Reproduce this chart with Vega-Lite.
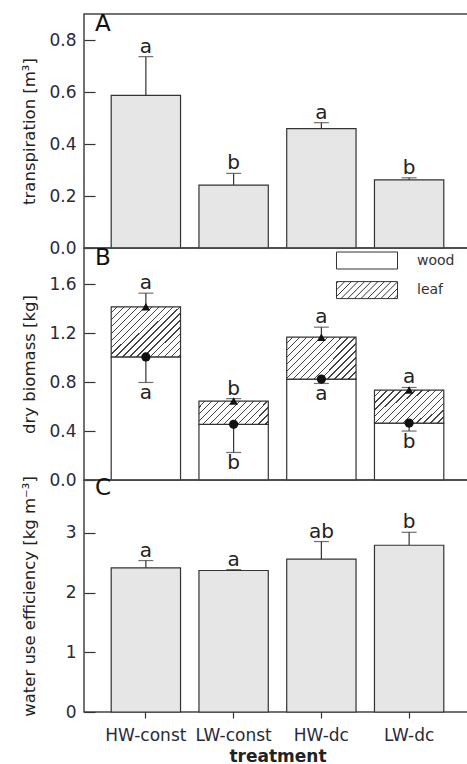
{
  "$schema": "https://vega.github.io/schema/vega-lite/v6.json",
  "padding": {"left": 20, "top": 12, "right": 0, "bottom": 0},
  "spacing": 0,
  "bounds": "flush",
  "config": {
    "font": "DejaVu Sans",
    "view": {"stroke": "#444", "strokeWidth": 1.5},
    "axis": {"grid": false, "domain": false, "labelFont": "DejaVu Sans", "labelFontSize": 17, "labelColor": "#2a2a3a", "tickColor": "#333", "tickWidth": 1.2, "titleFont": "DejaVu Sans", "titleFontSize": 16.5, "titleFontWeight": "normal", "titleColor": "#222"},
    "legend": {"padding": 0}
  },
  "vconcat": [
    {
      "width": 387,
      "height": 234,
      "title": {"text": "A", "anchor": "start", "frame": "group", "offset": -22, "dx": 11, "fontSize": 23, "fontWeight": "normal", "font": "DejaVu Sans", "color": "#111"},
      "data": {"values": [
        {"treatment": "HW-const", "value": 0.587, "err": 0.736, "lab": "a"},
        {"treatment": "LW-const", "value": 0.242, "err": 0.287, "lab": "b"},
        {"treatment": "HW-dc", "value": 0.459, "err": 0.482, "lab": "a"},
        {"treatment": "LW-dc", "value": 0.262, "err": 0.270, "lab": "b"}
      ]},
      "encoding": {"x": {"field": "treatment", "type": "nominal", "sort": ["HW-const", "LW-const", "HW-dc", "LW-dc"], "scale": {"paddingInner": 0.21, "paddingOuter": 0.31}, "axis": null}},
      "layer": [
        {"mark": {"type": "bar", "fill": "#e6e6e6", "stroke": "#333", "strokeWidth": 1.2},
         "encoding": {"y": {"field": "value", "type": "quantitative", "scale": {"domain": [0, 0.9], "nice": false},
           "axis": {"title": "transpiration [m³]", "values": [0, 0.1, 0.2, 0.3, 0.4, 0.5, 0.6, 0.7, 0.8],
             "labelExpr": "abs(datum.value*5-round(datum.value*5))<0.001 ? format(datum.value,'.1f') : ''",
             "tickSize": {"condition": {"test": "abs(datum.value*5-round(datum.value*5))<0.001", "value": -11}, "value": -8},
             "labelPadding": 19, "titleX": -50, "titleBaseline": "alphabetic"}}}},
        {"mark": {"type": "rule", "stroke": "#333", "strokeWidth": 1.2},
         "encoding": {"y": {"field": "value", "type": "quantitative"}, "y2": {"field": "err"}}},
        {"mark": {"type": "tick", "color": "#333", "thickness": 1.2, "size": 15},
         "encoding": {"y": {"field": "err", "type": "quantitative"}}},
        {"mark": {"type": "text", "baseline": "alphabetic", "dy": -4, "fontSize": 20, "color": "#222"},
         "encoding": {"y": {"field": "err", "type": "quantitative"}, "text": {"field": "lab"}}}
      ]
    },
    {
      "width": 387,
      "height": 232,
      "title": {"text": "B", "anchor": "start", "frame": "group", "offset": -22, "dx": 11, "fontSize": 23, "fontWeight": "normal", "font": "DejaVu Sans", "color": "#111"},
      "data": {"values": [
        {"treatment": "HW-const", "wood": 1.006, "total": 1.415, "leafErr": 1.527, "woodErr": 0.797, "leafLab": "a", "woodLab": "a"},
        {"treatment": "LW-const", "wood": 0.455, "total": 0.645, "leafErr": 0.665, "woodErr": 0.225, "leafLab": "b", "woodLab": "b"},
        {"treatment": "HW-dc", "wood": 0.825, "total": 1.167, "leafErr": 1.249, "woodErr": 0.789, "leafLab": "a", "woodLab": "a"},
        {"treatment": "LW-dc", "wood": 0.465, "total": 0.735, "leafErr": 0.756, "woodErr": 0.40, "leafLab": "a", "woodLab": "b"}
      ]},
      "encoding": {"x": {"field": "treatment", "type": "nominal", "sort": ["HW-const", "LW-const", "HW-dc", "LW-dc"], "scale": {"paddingInner": 0.21, "paddingOuter": 0.31}, "axis": null}},
      "layer": [
        {"mark": {"type": "bar", "fill": "white", "stroke": "#333", "strokeWidth": 1.2},
         "encoding": {"y": {"field": "wood", "type": "quantitative", "scale": {"domain": [0, 1.896], "nice": false},
           "axis": {"title": "dry biomass [kg]", "values": [0, 0.2, 0.4, 0.6, 0.8, 1.0, 1.2, 1.4, 1.6],
             "labelExpr": "abs(datum.value*2.5-round(datum.value*2.5))<0.001 ? format(datum.value,'.1f') : ''",
             "tickSize": {"condition": {"test": "abs(datum.value*2.5-round(datum.value*2.5))<0.001", "value": -11}, "value": -8},
             "labelPadding": 19, "titleX": -50, "titleBaseline": "alphabetic"}}}},
        {"mark": {"type": "bar", "stroke": "#333", "strokeWidth": 1.2},
         "encoding": {"y": {"field": "total", "type": "quantitative"}, "y2": {"field": "wood"},
           "fill": {"condition": [
             {"test": "datum.treatment === 'HW-const'", "value": {"gradient": "linear", "x1": 0, "y1": 0, "x2": 1.31, "y2": 0.951, "stops": [{"offset":0,"color":"#fff"},{"offset":0.04,"color":"#fff"},{"offset":0.04,"color":"#444"},{"offset":0.05,"color":"#444"},{"offset":0.05,"color":"#fff"},{"offset":0.09,"color":"#fff"},{"offset":0.09,"color":"#444"},{"offset":0.1,"color":"#444"},{"offset":0.1,"color":"#fff"},{"offset":0.14,"color":"#fff"},{"offset":0.14,"color":"#444"},{"offset":0.15,"color":"#444"},{"offset":0.15,"color":"#fff"},{"offset":0.19,"color":"#fff"},{"offset":0.19,"color":"#444"},{"offset":0.2,"color":"#444"},{"offset":0.2,"color":"#fff"},{"offset":0.24,"color":"#fff"},{"offset":0.24,"color":"#444"},{"offset":0.25,"color":"#444"},{"offset":0.25,"color":"#fff"},{"offset":0.29,"color":"#fff"},{"offset":0.29,"color":"#444"},{"offset":0.3,"color":"#444"},{"offset":0.3,"color":"#fff"},{"offset":0.34,"color":"#fff"},{"offset":0.34,"color":"#444"},{"offset":0.35,"color":"#444"},{"offset":0.35,"color":"#fff"},{"offset":0.39,"color":"#fff"},{"offset":0.39,"color":"#444"},{"offset":0.4,"color":"#444"},{"offset":0.4,"color":"#fff"},{"offset":0.44,"color":"#fff"},{"offset":0.44,"color":"#444"},{"offset":0.45,"color":"#444"},{"offset":0.45,"color":"#fff"},{"offset":0.49,"color":"#fff"},{"offset":0.49,"color":"#444"},{"offset":0.5,"color":"#444"},{"offset":0.5,"color":"#fff"},{"offset":0.54,"color":"#fff"},{"offset":0.54,"color":"#444"},{"offset":0.55,"color":"#444"},{"offset":0.55,"color":"#fff"},{"offset":0.59,"color":"#fff"},{"offset":0.59,"color":"#444"},{"offset":0.6,"color":"#444"},{"offset":0.6,"color":"#fff"},{"offset":0.64,"color":"#fff"},{"offset":0.64,"color":"#444"},{"offset":0.65,"color":"#444"},{"offset":0.65,"color":"#fff"},{"offset":0.69,"color":"#fff"},{"offset":0.69,"color":"#444"},{"offset":0.7,"color":"#444"},{"offset":0.7,"color":"#fff"},{"offset":0.74,"color":"#fff"},{"offset":0.74,"color":"#444"},{"offset":0.75,"color":"#444"},{"offset":0.75,"color":"#fff"},{"offset":0.79,"color":"#fff"},{"offset":0.79,"color":"#444"},{"offset":0.8,"color":"#444"},{"offset":0.8,"color":"#fff"},{"offset":0.84,"color":"#fff"},{"offset":0.84,"color":"#444"},{"offset":0.85,"color":"#444"},{"offset":0.85,"color":"#fff"},{"offset":0.89,"color":"#fff"},{"offset":0.89,"color":"#444"},{"offset":0.9,"color":"#444"},{"offset":0.9,"color":"#fff"},{"offset":0.94,"color":"#fff"},{"offset":0.94,"color":"#444"},{"offset":0.95,"color":"#444"},{"offset":0.95,"color":"#fff"},{"offset":0.99,"color":"#fff"},{"offset":0.99,"color":"#444"},{"offset":1,"color":"#444"}]}},
             {"test": "datum.treatment === 'LW-const'", "value": {"gradient": "linear", "x1": 0, "y1": 0, "x2": 1.8, "y2": 0.6, "stops": [{"offset":0,"color":"#fff"},{"offset":0.04,"color":"#fff"},{"offset":0.04,"color":"#444"},{"offset":0.05,"color":"#444"},{"offset":0.05,"color":"#fff"},{"offset":0.09,"color":"#fff"},{"offset":0.09,"color":"#444"},{"offset":0.1,"color":"#444"},{"offset":0.1,"color":"#fff"},{"offset":0.14,"color":"#fff"},{"offset":0.14,"color":"#444"},{"offset":0.15,"color":"#444"},{"offset":0.15,"color":"#fff"},{"offset":0.19,"color":"#fff"},{"offset":0.19,"color":"#444"},{"offset":0.2,"color":"#444"},{"offset":0.2,"color":"#fff"},{"offset":0.24,"color":"#fff"},{"offset":0.24,"color":"#444"},{"offset":0.25,"color":"#444"},{"offset":0.25,"color":"#fff"},{"offset":0.29,"color":"#fff"},{"offset":0.29,"color":"#444"},{"offset":0.3,"color":"#444"},{"offset":0.3,"color":"#fff"},{"offset":0.34,"color":"#fff"},{"offset":0.34,"color":"#444"},{"offset":0.35,"color":"#444"},{"offset":0.35,"color":"#fff"},{"offset":0.39,"color":"#fff"},{"offset":0.39,"color":"#444"},{"offset":0.4,"color":"#444"},{"offset":0.4,"color":"#fff"},{"offset":0.44,"color":"#fff"},{"offset":0.44,"color":"#444"},{"offset":0.45,"color":"#444"},{"offset":0.45,"color":"#fff"},{"offset":0.49,"color":"#fff"},{"offset":0.49,"color":"#444"},{"offset":0.5,"color":"#444"},{"offset":0.5,"color":"#fff"},{"offset":0.54,"color":"#fff"},{"offset":0.54,"color":"#444"},{"offset":0.55,"color":"#444"},{"offset":0.55,"color":"#fff"},{"offset":0.59,"color":"#fff"},{"offset":0.59,"color":"#444"},{"offset":0.6,"color":"#444"},{"offset":0.6,"color":"#fff"},{"offset":0.64,"color":"#fff"},{"offset":0.64,"color":"#444"},{"offset":0.65,"color":"#444"},{"offset":0.65,"color":"#fff"},{"offset":0.69,"color":"#fff"},{"offset":0.69,"color":"#444"},{"offset":0.7,"color":"#444"},{"offset":0.7,"color":"#fff"},{"offset":0.74,"color":"#fff"},{"offset":0.74,"color":"#444"},{"offset":0.75,"color":"#444"},{"offset":0.75,"color":"#fff"},{"offset":0.79,"color":"#fff"},{"offset":0.79,"color":"#444"},{"offset":0.8,"color":"#444"},{"offset":0.8,"color":"#fff"},{"offset":0.84,"color":"#fff"},{"offset":0.84,"color":"#444"},{"offset":0.85,"color":"#444"},{"offset":0.85,"color":"#fff"},{"offset":0.89,"color":"#fff"},{"offset":0.89,"color":"#444"},{"offset":0.9,"color":"#444"},{"offset":0.9,"color":"#fff"},{"offset":0.94,"color":"#fff"},{"offset":0.94,"color":"#444"},{"offset":0.95,"color":"#444"},{"offset":0.95,"color":"#fff"},{"offset":0.99,"color":"#fff"},{"offset":0.99,"color":"#444"},{"offset":1,"color":"#444"}]}},
             {"test": "datum.treatment === 'HW-dc'", "value": {"gradient": "linear", "x1": 0, "y1": 0, "x2": 1.471, "y2": 0.882, "stops": [{"offset":0,"color":"#fff"},{"offset":0.04,"color":"#fff"},{"offset":0.04,"color":"#444"},{"offset":0.05,"color":"#444"},{"offset":0.05,"color":"#fff"},{"offset":0.09,"color":"#fff"},{"offset":0.09,"color":"#444"},{"offset":0.1,"color":"#444"},{"offset":0.1,"color":"#fff"},{"offset":0.14,"color":"#fff"},{"offset":0.14,"color":"#444"},{"offset":0.15,"color":"#444"},{"offset":0.15,"color":"#fff"},{"offset":0.19,"color":"#fff"},{"offset":0.19,"color":"#444"},{"offset":0.2,"color":"#444"},{"offset":0.2,"color":"#fff"},{"offset":0.24,"color":"#fff"},{"offset":0.24,"color":"#444"},{"offset":0.25,"color":"#444"},{"offset":0.25,"color":"#fff"},{"offset":0.29,"color":"#fff"},{"offset":0.29,"color":"#444"},{"offset":0.3,"color":"#444"},{"offset":0.3,"color":"#fff"},{"offset":0.34,"color":"#fff"},{"offset":0.34,"color":"#444"},{"offset":0.35,"color":"#444"},{"offset":0.35,"color":"#fff"},{"offset":0.39,"color":"#fff"},{"offset":0.39,"color":"#444"},{"offset":0.4,"color":"#444"},{"offset":0.4,"color":"#fff"},{"offset":0.44,"color":"#fff"},{"offset":0.44,"color":"#444"},{"offset":0.45,"color":"#444"},{"offset":0.45,"color":"#fff"},{"offset":0.49,"color":"#fff"},{"offset":0.49,"color":"#444"},{"offset":0.5,"color":"#444"},{"offset":0.5,"color":"#fff"},{"offset":0.54,"color":"#fff"},{"offset":0.54,"color":"#444"},{"offset":0.55,"color":"#444"},{"offset":0.55,"color":"#fff"},{"offset":0.59,"color":"#fff"},{"offset":0.59,"color":"#444"},{"offset":0.6,"color":"#444"},{"offset":0.6,"color":"#fff"},{"offset":0.64,"color":"#fff"},{"offset":0.64,"color":"#444"},{"offset":0.65,"color":"#444"},{"offset":0.65,"color":"#fff"},{"offset":0.69,"color":"#fff"},{"offset":0.69,"color":"#444"},{"offset":0.7,"color":"#444"},{"offset":0.7,"color":"#fff"},{"offset":0.74,"color":"#fff"},{"offset":0.74,"color":"#444"},{"offset":0.75,"color":"#444"},{"offset":0.75,"color":"#fff"},{"offset":0.79,"color":"#fff"},{"offset":0.79,"color":"#444"},{"offset":0.8,"color":"#444"},{"offset":0.8,"color":"#fff"},{"offset":0.84,"color":"#fff"},{"offset":0.84,"color":"#444"},{"offset":0.85,"color":"#444"},{"offset":0.85,"color":"#fff"},{"offset":0.89,"color":"#fff"},{"offset":0.89,"color":"#444"},{"offset":0.9,"color":"#444"},{"offset":0.9,"color":"#fff"},{"offset":0.94,"color":"#fff"},{"offset":0.94,"color":"#444"},{"offset":0.95,"color":"#444"},{"offset":0.95,"color":"#fff"},{"offset":0.99,"color":"#fff"},{"offset":0.99,"color":"#444"},{"offset":1,"color":"#444"}]}}
           ],
           "value": {"gradient": "linear", "x1": 0, "y1": 0, "x2": 1.621, "y2": 0.785, "stops": [{"offset":0,"color":"#fff"},{"offset":0.04,"color":"#fff"},{"offset":0.04,"color":"#444"},{"offset":0.05,"color":"#444"},{"offset":0.05,"color":"#fff"},{"offset":0.09,"color":"#fff"},{"offset":0.09,"color":"#444"},{"offset":0.1,"color":"#444"},{"offset":0.1,"color":"#fff"},{"offset":0.14,"color":"#fff"},{"offset":0.14,"color":"#444"},{"offset":0.15,"color":"#444"},{"offset":0.15,"color":"#fff"},{"offset":0.19,"color":"#fff"},{"offset":0.19,"color":"#444"},{"offset":0.2,"color":"#444"},{"offset":0.2,"color":"#fff"},{"offset":0.24,"color":"#fff"},{"offset":0.24,"color":"#444"},{"offset":0.25,"color":"#444"},{"offset":0.25,"color":"#fff"},{"offset":0.29,"color":"#fff"},{"offset":0.29,"color":"#444"},{"offset":0.3,"color":"#444"},{"offset":0.3,"color":"#fff"},{"offset":0.34,"color":"#fff"},{"offset":0.34,"color":"#444"},{"offset":0.35,"color":"#444"},{"offset":0.35,"color":"#fff"},{"offset":0.39,"color":"#fff"},{"offset":0.39,"color":"#444"},{"offset":0.4,"color":"#444"},{"offset":0.4,"color":"#fff"},{"offset":0.44,"color":"#fff"},{"offset":0.44,"color":"#444"},{"offset":0.45,"color":"#444"},{"offset":0.45,"color":"#fff"},{"offset":0.49,"color":"#fff"},{"offset":0.49,"color":"#444"},{"offset":0.5,"color":"#444"},{"offset":0.5,"color":"#fff"},{"offset":0.54,"color":"#fff"},{"offset":0.54,"color":"#444"},{"offset":0.55,"color":"#444"},{"offset":0.55,"color":"#fff"},{"offset":0.59,"color":"#fff"},{"offset":0.59,"color":"#444"},{"offset":0.6,"color":"#444"},{"offset":0.6,"color":"#fff"},{"offset":0.64,"color":"#fff"},{"offset":0.64,"color":"#444"},{"offset":0.65,"color":"#444"},{"offset":0.65,"color":"#fff"},{"offset":0.69,"color":"#fff"},{"offset":0.69,"color":"#444"},{"offset":0.7,"color":"#444"},{"offset":0.7,"color":"#fff"},{"offset":0.74,"color":"#fff"},{"offset":0.74,"color":"#444"},{"offset":0.75,"color":"#444"},{"offset":0.75,"color":"#fff"},{"offset":0.79,"color":"#fff"},{"offset":0.79,"color":"#444"},{"offset":0.8,"color":"#444"},{"offset":0.8,"color":"#fff"},{"offset":0.84,"color":"#fff"},{"offset":0.84,"color":"#444"},{"offset":0.85,"color":"#444"},{"offset":0.85,"color":"#fff"},{"offset":0.89,"color":"#fff"},{"offset":0.89,"color":"#444"},{"offset":0.9,"color":"#444"},{"offset":0.9,"color":"#fff"},{"offset":0.94,"color":"#fff"},{"offset":0.94,"color":"#444"},{"offset":0.95,"color":"#444"},{"offset":0.95,"color":"#fff"},{"offset":0.99,"color":"#fff"},{"offset":0.99,"color":"#444"},{"offset":1,"color":"#444"}]}}}},
        {"mark": {"type": "rule", "stroke": "#333", "strokeWidth": 1.2},
         "encoding": {"y": {"field": "total", "type": "quantitative"}, "y2": {"field": "leafErr"}}},
        {"mark": {"type": "tick", "color": "#333", "thickness": 1.2, "size": 15},
         "encoding": {"y": {"field": "leafErr", "type": "quantitative"}}},
        {"mark": {"type": "rule", "stroke": "#333", "strokeWidth": 1.2},
         "encoding": {"y": {"field": "woodErr", "type": "quantitative"}, "y2": {"field": "wood"}}},
        {"mark": {"type": "tick", "color": "#333", "thickness": 1.2, "size": 15},
         "encoding": {"y": {"field": "woodErr", "type": "quantitative"}}},
        {"mark": {"type": "point", "shape": "circle", "filled": true, "color": "#111", "size": 85, "opacity": 1},
         "encoding": {"y": {"field": "wood", "type": "quantitative"}}},
        {"mark": {"type": "point", "shape": "triangle-up", "filled": true, "color": "#111", "size": 75, "opacity": 1},
         "encoding": {"y": {"field": "total", "type": "quantitative"}}},
        {"mark": {"type": "text", "baseline": "alphabetic", "dy": -4, "fontSize": 20, "color": "#222"},
         "encoding": {"y": {"field": "leafErr", "type": "quantitative"}, "text": {"field": "leafLab"}}},
        {"mark": {"type": "text", "baseline": "top", "dy": 1, "fontSize": 20, "color": "#222"},
         "encoding": {"y": {"field": "woodErr", "type": "quantitative"}, "text": {"field": "woodLab"}}},
        {"data": {"values": []},
         "mark": {"type": "point", "filled": false, "color": "#333", "fill": "white", "stroke": "#333", "strokeWidth": 1},
         "encoding": {"shape": {"field": "part", "type": "nominal",
           "scale": {"domain": ["wood", "leaf"], "range": ["M-3.59,-1H3.59V1H-3.59Z", "M-3.59,-1H3.59V1H-3.59Z M-3.59,-0.81L-3.4,-1 M-3.59,-0.03L-2.62,-1 M-3.59,0.75L-1.84,-1 M-3.06,1L-1.06,-1 M-2.28,1L-0.28,-1 M-1.5,1L0.5,-1 M-0.72,1L1.28,-1 M0.06,1L2.06,-1 M0.84,1L2.84,-1 M1.62,1L3.59,-0.97 M2.4,1L3.59,-0.19 M3.18,1L3.59,0.59"]},
           "legend": {"title": null, "orient": "none", "legendX": 274, "legendY": 237.5, "padding": 0, "symbolSize": 289, "rowPadding": 7.6, "labelOffset": 41, "labelFont": "DejaVu Sans", "labelFontSize": 14, "labelColor": "#333", "symbolStrokeWidth": 1, "symbolOpacity": 1,
             "encode": {"symbols": {"fill": {"value": "white"}, "stroke": {"value": "#333"}, "strokeWidth": {"value": 1}, "opacity": {"value": 1}, "fillOpacity": {"value": 1}, "strokeOpacity": {"value": 1}}}}}}}
      ]
    },
    {
      "width": 387,
      "height": 232,
      "title": {"text": "C", "anchor": "start", "frame": "group", "offset": -24, "dx": 11, "fontSize": 23, "fontWeight": "normal", "font": "DejaVu Sans", "color": "#111"},
      "data": {"values": [
        {"treatment": "HW-const", "value": 2.415, "err": 2.537, "lab": "a"},
        {"treatment": "LW-const", "value": 2.37, "err": 2.385, "lab": "a"},
        {"treatment": "HW-dc", "value": 2.559, "err": 2.855, "lab": "ab"},
        {"treatment": "LW-dc", "value": 2.793, "err": 3.01, "lab": "b"}
      ]},
      "encoding": {"x": {"field": "treatment", "type": "nominal", "sort": ["HW-const", "LW-const", "HW-dc", "LW-dc"], "scale": {"paddingInner": 0.21, "paddingOuter": 0.31},
        "axis": {"title": "treatment", "labelAngle": 0, "tickSize": 6, "labelPadding": 9, "titleFontWeight": "bold", "titleFontSize": 17, "titlePadding": 5}}},
      "layer": [
        {"mark": {"type": "bar", "fill": "#e6e6e6", "stroke": "#333", "strokeWidth": 1.2},
         "encoding": {"y": {"field": "value", "type": "quantitative", "scale": {"domain": [0, 3.886], "nice": false},
           "axis": {"title": "water use efficiency [kg m⁻³]", "values": [0, 0.5, 1, 1.5, 2, 2.5, 3, 3.5],
             "labelExpr": "abs(datum.value-round(datum.value))<0.001 ? format(datum.value,'d') : ''",
             "tickSize": {"condition": {"test": "abs(datum.value-round(datum.value))<0.001", "value": -11}, "value": -8},
             "labelPadding": 19, "titleX": -50, "titleBaseline": "alphabetic"}}}},
        {"mark": {"type": "rule", "stroke": "#333", "strokeWidth": 1.2},
         "encoding": {"y": {"field": "value", "type": "quantitative"}, "y2": {"field": "err"}}},
        {"mark": {"type": "tick", "color": "#333", "thickness": 1.2, "size": 15},
         "encoding": {"y": {"field": "err", "type": "quantitative"}}},
        {"mark": {"type": "text", "baseline": "alphabetic", "dy": -4, "fontSize": 20, "color": "#222"},
         "encoding": {"y": {"field": "err", "type": "quantitative"}, "text": {"field": "lab"}}}
      ]
    }
  ]
}
